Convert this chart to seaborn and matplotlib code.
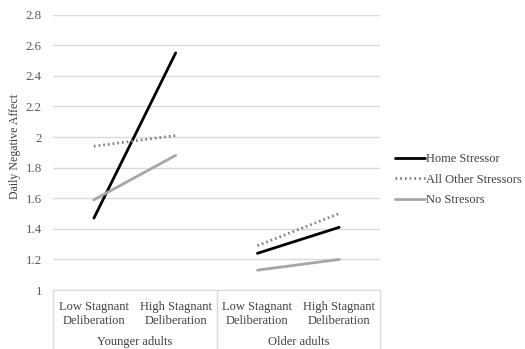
import matplotlib
matplotlib.use("Agg")
import matplotlib.pyplot as plt
import matplotlib.transforms as mtransforms
import seaborn as sns
import pandas as pd

# data
groups = ["Younger adults", "Older adults"]
levels = ["Low Stagnant\nDeliberation", "High Stagnant\nDeliberation"]
stressors = ["Home Stressor", "All Other Stressors", "No Stresors"]
home = [1.47, 2.55, 1.24, 1.41]
other = [1.94, 2.01, 1.29, 1.50]
none_ = [1.59, 1.88, 1.13, 1.20]
y_ticks = [1, 1.2, 1.4, 1.6, 1.8, 2, 2.2, 2.4, 2.6, 2.8]
y_tick_labels = ["1", "1.2", "1.4", "1.6", "1.8", "2", "2.2", "2.4", "2.6", "2.8"]

rows = []
for name, vals in zip(stressors, [home, other, none_]):
    for i, v in enumerate(vals):
        rows.append({"pos": i, "value": v, "stressor": name,
                     "group": groups[i // 2]})
df = pd.DataFrame(rows)

sns.set_style("white")
plt.rcParams["font.family"] = ["Liberation Serif", "DejaVu Serif"]

fig = plt.figure(figsize=(5.25, 3.49), dpi=100)
ax = fig.add_axes([0.101, 0.169, 0.623, 0.789])

palette = {"Home Stressor": "#000000", "All Other Stressors": "#7f7f7f",
           "No Stresors": "#a6a6a6"}
dashes = {"Home Stressor": "", "All Other Stressors": (0.6, 1.1),
          "No Stresors": ""}
sns.lineplot(data=df, x="pos", y="value", hue="stressor", style="stressor",
             units="group", estimator=None, palette=palette, dashes=dashes,
             hue_order=stressors, style_order=stressors, linewidth=2, ax=ax)

ax.set_xlim(-0.5, 3.5)
ax.set_ylim(1, 2.8)
ax.set_yticks(y_ticks)
ax.set_yticklabels(y_tick_labels, fontsize=9.3, color="#595959")
ax.yaxis.grid(True, color="#d9d9d9", linewidth=1)
ax.set_axisbelow(True)
for s in ["left", "right", "top"]:
    ax.spines[s].set_visible(False)
ax.spines["bottom"].set_color("#d9d9d9")
ax.tick_params(axis="y", length=0, pad=8)
ax.set_xticks(range(4))
ax.set_xticklabels(levels * 2, fontsize=9, color="#404040", linespacing=1.25)
ax.tick_params(axis="x", length=0, pad=8)
ax.set_xlabel("")
ax.set_ylabel("Daily Negative Affect", fontsize=8.6, color="#404040")
ax.yaxis.set_label_coords(-0.098, 0.52)

# group labels and separators of the category axis
trans = mtransforms.blended_transform_factory(ax.transData, ax.transAxes)
for i, g in enumerate(groups):
    ax.text(2 * i + 0.5, -0.19, g, transform=trans, ha="center", va="center",
            fontsize=9, color="#404040")
for xs in [-0.5, 1.5, 3.5]:
    ax.plot([xs, xs], [0, -0.25], transform=trans, color="#d9d9d9",
            linewidth=1, clip_on=False)

leg = ax.legend(loc="center left", bbox_to_anchor=(1.045, 0.40), frameon=False,
                fontsize=9, handlelength=2.45, handletextpad=0.05,
                labelspacing=0.68, labelcolor="#404040", borderaxespad=0,
                borderpad=0)

fig.savefig("out.png", dpi=100)
